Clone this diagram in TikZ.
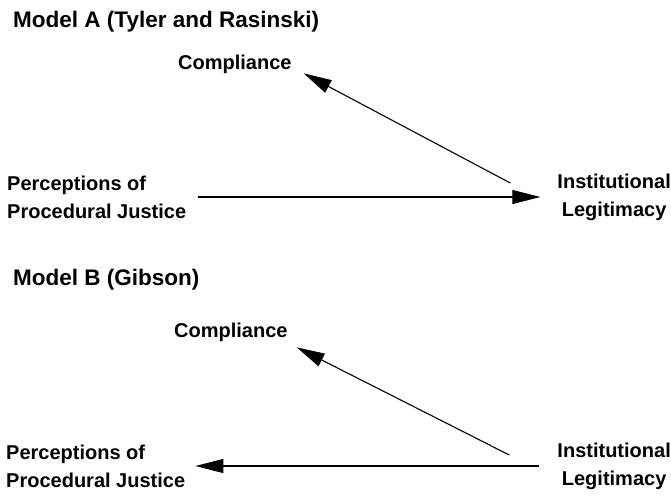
\documentclass[tikz,border=0pt]{standalone}
\usepackage{fontspec}
\setmainfont{Liberation Sans}
\usetikzlibrary{arrows.meta}

\begin{document}
\begin{tikzpicture}[x=1pt,y=-1pt,
    ttl/.style={inner sep=0pt,font=\fontsize{22.5}{27}\selectfont\bfseries},
    txt/.style={inner sep=0pt,font=\fontsize{20}{28}\selectfont\bfseries},
    arr/.style={line width=1.1pt,-{Triangle[length=28pt,width=14pt]}}]
        % Fix the page size
        \useasboundingbox (0,0) rectangle (671,498);

        % Model A
        \node[ttl,anchor=base west] (titleA) at (13,27) {Model A (Tyler and Rasinski)};
        \node[txt,anchor=base west] (complA) at (178,69) {Compliance};
        \node[txt,anchor=west,align=left] (percA) at (7,197) {Perceptions of\\Procedural Justice};
        \node[txt,anchor=east,align=center] (instA) at (671,197) {Institutional\\Legitimacy};

        % Draw the arrows
        \draw[arr] ([xshift=12]percA.east) -- ([xshift=-17]percA.east -| instA.west);
        \draw[arr] ([shift={(-47,-14)}]instA.west) -- ([shift={(12,0)}]complA.south east);

        % Model B
        \node[ttl,anchor=base west] (titleB) at (13,285) {Model B (Gibson)};
        \node[txt,anchor=base west] (complB) at (174,337) {Compliance};
        \node[txt,anchor=west,align=left] (percB) at (6,466) {Perceptions of\\Procedural Justice};
        \node[txt,anchor=east,align=center] (instB) at (671,466) {Institutional\\Legitimacy};

        % Draw the arrows
        \draw[arr] ([xshift=-18]instB.west |- percB.east) -- ([xshift=10]percB.east);
        \draw[arr] ([shift={(-48,-11)}]instB.west) -- ([shift={(9,6)}]complB.south east);
    \end{tikzpicture}
\end{document}
